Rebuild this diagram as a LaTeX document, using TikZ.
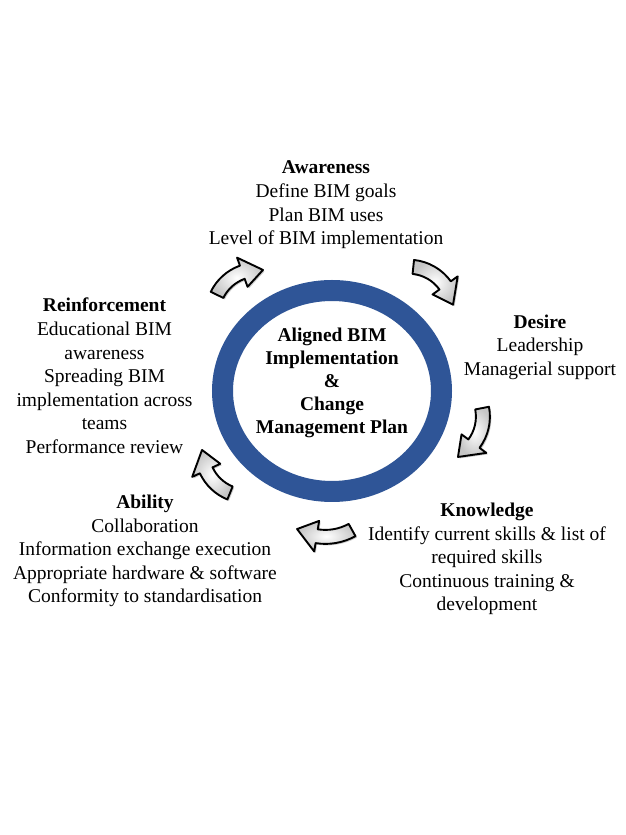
\documentclass[tikz,border=0pt]{standalone}
\usepackage{fontspec}
\setmainfont{Liberation Serif}
\usetikzlibrary{shadows}
\definecolor{ringblue}{RGB}{47,85,151}
\tikzset{
  txt/.style={align=center, inner sep=0pt, font=\fontsize{19.5}{23.6}\selectfont},
  ctxt/.style={align=center, inner sep=0pt, font=\fontsize{19.5}{23}\selectfont\bfseries},
  arrowshape/.style={draw=black, line width=1.9pt, line join=round,
    inner color=white, outer color=gray!45,
    drop shadow={shadow xshift=1.5pt, shadow yshift=-1.5pt, opacity=0.4}}
}
\newcommand{\bendarrow}[5]{%
  \pgfmathsetmacro{\ahd}{#5+21/#3*57.2958}%
  \pgfmathsetmacro{\rro}{#3+7}\pgfmathsetmacro{\rri}{#3-7}%
  \pgfmathsetmacro{\hro}{#3+15.5}\pgfmathsetmacro{\hri}{#3-15.5}%
  \path[arrowshape] ([shift={(#1,#2)}]#4:\rro) arc[start angle=#4, end angle=\ahd, radius=\rro]
    -- ([shift={(#1,#2)}]\ahd:\hro) -- ([shift={(#1,#2)}]#5:#3)
    -- ([shift={(#1,#2)}]\ahd:\hri) -- ([shift={(#1,#2)}]\ahd:\rri)
    arc[start angle=\ahd, end angle=#4, radius=\rri] -- cycle;
}
\begin{document}
\begin{tikzpicture}[x=1pt,y=1pt]
\useasboundingbox[fill=white] (0,0) rectangle (626,835);
% ring
\draw[ringblue, line width=21pt] (332,444) ellipse [x radius=109.5, y radius=100.5];
\node[ctxt] (core) at (332,452) {Aligned BIM\\Implementation\\\&\\Change\\Management Plan};
% arrows
\bendarrow{257.5}{520.4}{45}{154}{83}
\bendarrow{408.6}{523.3}{45}{84}{9}
\bendarrow{437.9}{418.3}{45}{11}{-63.5}
\bendarrow{325.4}{353.1}{55}{-61}{-121}
\bendarrow{247}{383.7}{45}{247.8}{178.3}
% texts
\node[txt] (aware) at (326,630) {\textbf{Awareness}\\Define BIM goals\\Plan BIM uses\\Level of BIM implementation};
\node[txt] (desire) at (540,488) {\textbf{Desire}\\Leadership\\Managerial support};
\node[txt] (know) at (487,276) {\textbf{Knowledge}\\Identify current skills \& list of\\required skills\\Continuous training \&\\development};
\node[txt] (abil) at (145,284) {\textbf{Ability}\\Collaboration\\Information exchange execution\\Appropriate hardware \& software\\Conformity to standardisation};
\node[txt] (reinf) at (104.5,459) {\textbf{Reinforcement}\\Educational BIM\\awareness\\Spreading BIM\\implementation across\\teams\\Performance review};
\end{tikzpicture}
\end{document}
